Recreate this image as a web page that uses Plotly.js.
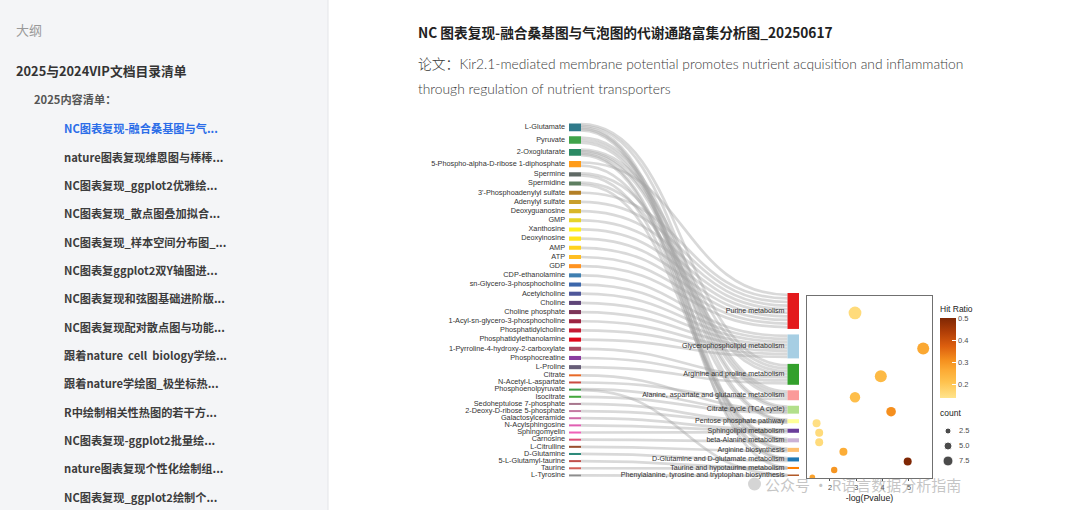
<!DOCTYPE html>
<html>
<head>
<meta charset="utf-8">
<script src="https://cdn.plot.ly/plotly-3.0.1.min.js"></script>
<style>html,body{margin:0;padding:0;background:#fff;}#chart{width:1080px;height:510px;}</style>
</head>
<body>
<div id="chart"></div>
<script>
// ---------------- DATA ----------------
const metabolites = ['L-Glutamate','Pyruvate','2-Oxoglutarate','5-Phospho-alpha-D-ribose 1-diphosphate','Spermine','Spermidine',
  "3'-Phosphoadenylyl sulfate",'Adenylyl sulfate','Deoxyguanosine','GMP','Xanthosine','Deoxyinosine','AMP','ATP','GDP',
  'CDP-ethanolamine','sn-Glycero-3-phosphocholine','Acetylcholine','Choline','Choline phosphate','1-Acyl-sn-glycero-3-phosphocholine',
  'Phosphatidylcholine','Phosphatidylethanolamine','1-Pyrroline-4-hydroxy-2-carboxylate','Phosphocreatine','L-Proline',
  'Citrate','N-Acetyl-L-aspartate','Phosphoenolpyruvate','Isocitrate','Sedoheptulose 7-phosphate','2-Deoxy-D-ribose 5-phosphate',
  'Galactosylceramide','N-Acylsphingosine','Sphingomyelin','Carnosine','L-Citrulline','D-Glutamine','5-L-Glutamyl-taurine','Taurine','L-Tyrosine'];
const metabWeight = [3.8,3.7,3.4,3.1,
  2,2,2,2,2,2,2,2,2,2,2,2,2,2,2,2,2,2,2,2,2,2,
  1,1,1,1,1,1,1,1,1,1,1,1,1,1,1];
const metabColors = ['#2f7a8a','#3fa34a','#2b8a64','#ff9c1a','#606a66','#5e7e60','#b37f26','#c89f2c','#d8b62a','#e6d42a',
  '#fff020','#ffe41e','#ffd21e','#ffbe22','#ff9320','#3f7fb1','#3c67ab','#4f579a','#5f4578','#7c3558','#9c2442','#c41a34',
  '#e0081c','#a84a62','#8a3ea0','#675e78','#e86a28','#c94b42','#3d9a48','#45a83e','#a8788e','#c47aa2','#cf6aa8','#e060b2',
  '#ee62b8','#dc4e78','#9a5030','#2e8a7a','#c0504c','#d26058','#8e8e8e'];

const pathways = ['Purine metabolism','Glycerophospholipid metabolism','Arginine and proline metabolism',
  'Alanine, aspartate and glutamate metabolism','Citrate cycle (TCA cycle)','Pentose phosphate pathway',
  'Sphingolipid metabolism','beta-Alanine metabolism','Arginine biosynthesis','D-Glutamine and D-glutamate metabolism',
  'Taurine and hypotaurine metabolism','Phenylalanine, tyrosine and tryptophan biosynthesis'];
const pathwayWeight = [17.7,11.8,10.3,4.9,3.9,2,2,2,2,2,1,0.75];
const pathwayColors = ['#E31A1C','#A6CEE3','#33A02C','#FB9A99','#B2DF8A','#FFFF99','#6A3D9A','#CAB2D6','#FDBF6F','#1F78B4','#FF7F00','#B15928'];
const negLogP = [2.95,5.54,3.93,2.95,4.32,1.49,1.59,1.59,2.51,4.95,2.16,1.33];
const hitRatio = [0.16,0.27,0.23,0.22,0.31,0.15,0.16,0.16,0.26,0.50,0.30,0.28];
const hitCount = [11,10,10,8,7,5,5,5,5,5,3,2];
const countBreaks = [2.5,5.0,7.5];
const hitTicks = [0.2,0.3,0.4,0.5];
const xTicks = [2,3,4,5];

// links: metabolite -> pathway index
const linkSource = [
  '5-Phospho-alpha-D-ribose 1-diphosphate',"3'-Phosphoadenylyl sulfate",'Adenylyl sulfate','Deoxyguanosine','GMP','Xanthosine','Deoxyinosine','AMP','ATP','GDP',
  'CDP-ethanolamine','sn-Glycero-3-phosphocholine','Acetylcholine','Choline','Choline phosphate','1-Acyl-sn-glycero-3-phosphocholine','Phosphatidylcholine','Phosphatidylethanolamine',
  'L-Glutamate','2-Oxoglutarate','Spermine','Spermidine','1-Pyrroline-4-hydroxy-2-carboxylate','Phosphocreatine','L-Proline',
  'L-Glutamate','Pyruvate','2-Oxoglutarate','N-Acetyl-L-aspartate',
  'Pyruvate','2-Oxoglutarate','Citrate','Phosphoenolpyruvate','Isocitrate',
  '5-Phospho-alpha-D-ribose 1-diphosphate','Pyruvate','Sedoheptulose 7-phosphate','2-Deoxy-D-ribose 5-phosphate',
  'Galactosylceramide','N-Acylsphingosine','Sphingomyelin',
  'Spermine','Spermidine','Carnosine',
  'L-Glutamate','2-Oxoglutarate','L-Citrulline',
  'L-Glutamate','2-Oxoglutarate','D-Glutamine',
  'L-Glutamate','5-L-Glutamyl-taurine','Taurine',
  'Phosphoenolpyruvate','L-Tyrosine'];
const linkTarget = [
  0,0,0,0,0,0,0,0,0,0,
  1,1,1,1,1,1,1,1,
  2,2,2,2,2,2,2,
  3,3,3,3,
  4,4,4,4,4,
  5,5,5,5,
  6,6,6,
  7,7,7,
  8,8,8,
  9,9,9,
  10,10,10,
  11,11];

const sidebarItems = ['NC图表复现-融合桑基图与气...','nature图表复现维恩图与棒棒...','NC图表复现_ggplot2优雅绘...',
  'NC图表复现_散点图叠加拟合...','NC图表复现_样本空间分布图_...','NC图表复ggplot2双Y轴图进...','NC图表复现和弦图基础进阶版...',
  'NC图表复现配对散点图与功能...','跟着nature\u00a0 cell\u00a0 biology学绘...','跟着nature学绘图_极坐标热...','R中绘制相关性热图的若干方...',
  'NC图表复现-ggplot2批量绘...','nature图表复现个性化绘制组...','NC图表复现_ggplot2绘制个...'];

// ---------------- LAYOUT HELPERS ----------------
const W = 1080, H = 510;
const px = p => p / W;
const py = p => 1 - p / H;
const dom = (a, b) => [1 - b / H, 1 - a / H];
const UNIT = 2.03;           // px per weight unit
const GAP_L = 5.12, GAP_R = 5.5;
const colW = 230;            // sankey width in px (one x unit)
const X_LEFT = 569, X_RIGHT = 799, LABEL_ROOM = 0.95;
const barWL = 12 / colW, barWR = 11.5 / colW;

function stack(weights, start, gap) {
  let t = start; const tops = [], hs = [], cs = [];
  weights.forEach(w => { const h = w * UNIT; tops.push(t); hs.push(h); cs.push(t + h / 2); t += h + gap; });
  return {tops, hs, cs};
}
const L = stack(metabWeight, 123.45, GAP_L);
const R = stack(pathwayWeight, 293, GAP_R);

// link geometry
const srcIdx = linkSource.map(n => metabolites.indexOf(n));
const shapes = [];
const x0 = barWL, x1 = 1 - barWR, xm = (x0 + x1) / 2;
srcIdx.forEach((s, k) => {
  const p = linkTarget[k];
  const sibS = srcIdx.map((ss, j) => j).filter(j => srcIdx[j] === s).sort((a, b) => linkTarget[a] - linkTarget[b]);
  const sibP = srcIdx.map((ss, j) => j).filter(j => linkTarget[j] === p).sort((a, b) => srcIdx[a] - srcIdx[b]);
  const yL = L.tops[s] + (sibS.indexOf(k) + 0.5) * L.hs[s] / sibS.length;
  const yR = R.tops[p] + (sibP.indexOf(k) + 0.5) * R.hs[p] / sibP.length;
  shapes.push({type: 'path', xref: 'x', yref: 'y', layer: 'below',
    path: `M ${x0},${yL} C ${xm},${yL} ${xm},${yR} ${x1},${yR}`,
    line: {color: 'rgba(165,165,165,0.42)', width: 2.7}});
});

// sidebar background
shapes.push({type: 'rect', xref: 'paper', yref: 'paper', x0: 0, x1: px(328), y0: 0, y1: 1, fillcolor: '#f4f5f7', line: {width: 0}, layer: 'below'});
shapes.push({type: 'line', xref: 'paper', yref: 'paper', x0: px(328), x1: px(328), y0: 0, y1: 1, line: {color: '#e4e5e8', width: 1}, layer: 'below'});
// watermark icon
shapes.push({type: 'circle', xref: 'paper', yref: 'paper', x0: px(748), x1: px(761), y0: py(490.5), y1: py(477.5), fillcolor: 'rgba(150,150,150,0.4)', line: {width: 0}});

const sizeOf = c => 4 + 0.8 * c;
const FONT = 'Liberation Sans, Arial, sans-serif';

const traces = [
  {type: 'bar', orientation: 'h', y: L.cs, x: L.cs.map(() => barWL), base: 0, width: L.hs,
   marker: {color: metabColors, line: {width: 0}}, xaxis: 'x', yaxis: 'y', hoverinfo: 'skip', showlegend: false},
  {type: 'bar', orientation: 'h', y: R.cs, x: R.cs.map(() => barWR), base: 1 - barWR, width: R.hs,
   marker: {color: pathwayColors, line: {width: 0}}, xaxis: 'x', yaxis: 'y', hoverinfo: 'skip', showlegend: false},
  {type: 'scatter', mode: 'text', x: L.cs.map(() => -4 / colW), y: L.cs, text: metabolites, textposition: 'middle left',
   textfont: {family: FONT, size: 7.3, color: '#333'}, cliponaxis: false, xaxis: 'x', yaxis: 'y', hoverinfo: 'skip', showlegend: false},
  {type: 'scatter', mode: 'text', x: R.cs.map(() => 1 - barWR - 3 / colW), y: R.cs, text: pathways, textposition: 'middle left',
   textfont: {family: FONT, size: 7.1, color: '#333'}, cliponaxis: false, xaxis: 'x', yaxis: 'y', hoverinfo: 'skip', showlegend: false},
  {type: 'scatter', mode: 'markers', x: negLogP, y: R.cs, xaxis: 'x2', yaxis: 'y2', cliponaxis: true, hoverinfo: 'skip', showlegend: false,
   marker: {size: hitCount.map(sizeOf), sizemode: 'diameter', color: hitRatio, cmin: 0.14, cmax: 0.5, opacity: 1,
     line: {width: 0},
     colorscale: [[0, '#ffe48c'], [0.2, '#fec24e'], [0.35, '#fcaa34'], [0.47, '#f5901e'], [0.65, '#dc5e0e'], [0.82, '#b23f07'], [1, '#7f2704']],
     showscale: true,
     colorbar: {x: px(940), xanchor: 'left', y: py(303), yanchor: 'top', len: 95, lenmode: 'pixels', thickness: 16,
       thicknessmode: 'pixels', outlinewidth: 0, xpad: 0, ypad: 0, tickvals: hitTicks, ticks: 'inside', ticklen: 4,
       tickcolor: 'white', tickfont: {family: FONT, size: 7.5, color: '#4d4d4d'},
       title: {text: 'Hit Ratio', side: 'top', font: {family: FONT, size: 8.5, color: '#222'}}}}},
  {type: 'scatter', mode: 'markers', x: countBreaks.map(() => 0.26), y: countBreaks.map((v, i) => i), xaxis: 'x3', yaxis: 'y3',
   marker: {size: countBreaks.map(sizeOf), color: '#000'}, hoverinfo: 'skip', showlegend: false, cliponaxis: false},
  {type: 'scatter', mode: 'text', x: countBreaks.map(() => 0.48), y: countBreaks.map((v, i) => i), xaxis: 'x3', yaxis: 'y3',
   text: countBreaks.map(v => v.toFixed(1)), textposition: 'middle right', textfont: {family: FONT, size: 7.5, color: '#4d4d4d'},
   hoverinfo: 'skip', showlegend: false, cliponaxis: false}
];

const annotations = [];
const ann = (text, x, y, font, extra) => annotations.push(Object.assign({text, x: px(x), y: py(y), xref: 'paper', yref: 'paper',
  xanchor: 'left', yanchor: 'middle', showarrow: false, borderpad: 0, font}, extra || {}));
const CJK = 'Noto Sans CJK SC, sans-serif';
ann('大纲', 14.5, 29.5, {family: CJK, size: 13, color: '#9a9a9a'});
ann('<b>2025与2024VIP文档目录清单</b>', 14.5, 71, {family: CJK, size: 12.8, color: '#333'});
ann('<b>2025内容清单：</b>', 33, 99, {family: CJK, size: 11.2, color: '#555'});
sidebarItems.forEach((t, i) => ann('<b>' + t + '</b>', 63, 128.3 + i * 28.33, {family: CJK, size: 11.2, color: i === 0 ? '#2b6de8' : '#3c3c3c'}));
ann('<b>NC 图表复现-融合桑基图与气泡图的代谢通路富集分析图_20250617</b>', 417, 32, {family: CJK, size: 13.7, color: '#222'});
ann('论文：Kir2.1-mediated membrane potential promotes nutrient acquisition and inflammation', 417, 63,
  {family: 'Lato, ' + CJK, size: 13.8, color: '#3a3a3a', weight: 300});
ann('through regulation of nutrient transporters', 417, 88, {family: 'Lato, ' + CJK, size: 13.8, color: '#3a3a3a', weight: 300});
ann('count', 939, 413, {family: FONT, size: 8.5, color: '#222'});
ann('公众号 · R语言数据分析指南', 764, 484, {family: CJK, size: 15, color: 'rgba(140,140,140,0.5)'});

const layout = {
  width: W, height: H, margin: {l: 0, r: 0, t: 0, b: 0}, paper_bgcolor: '#fff', plot_bgcolor: 'rgba(0,0,0,0)',
  barmode: 'overlay', showlegend: false,
  xaxis: {domain: [px(X_LEFT - LABEL_ROOM * colW), px(X_RIGHT)], range: [-LABEL_ROOM, 1], visible: false, fixedrange: true},
  yaxis: {domain: dom(115, 490), range: [490, 115], visible: false, fixedrange: true},
  xaxis2: {domain: [px(807), px(932)], range: [1.127, 5.874], anchor: 'y2', tickvals: xTicks, ticks: 'outside', ticklen: 2,
    tickcolor: '#555', tickfont: {family: FONT, size: 7.3, color: '#4d4d4d'}, showline: true, mirror: true,
    linecolor: '#707070', linewidth: 1.3, showgrid: false, zeroline: false,
    title: {text: '-log(Pvalue)', font: {family: FONT, size: 8.8, color: '#222'}, standoff: 3}},
  yaxis2: {domain: dom(296, 478), range: [476, 294], anchor: 'x2', showticklabels: false, ticks: '', showline: true, mirror: true,
    linecolor: '#707070', linewidth: 1.3, showgrid: false, zeroline: false},
  xaxis3: {domain: [px(935), px(985)], range: [0, 1], anchor: 'y3', visible: false},
  yaxis3: {domain: dom(422, 470), range: [2.6, -0.6], anchor: 'x3', visible: false},
  shapes, annotations
};

Plotly.newPlot('chart', traces, layout, {displayModeBar: false, staticPlot: true});
</script>
</body>
</html>
